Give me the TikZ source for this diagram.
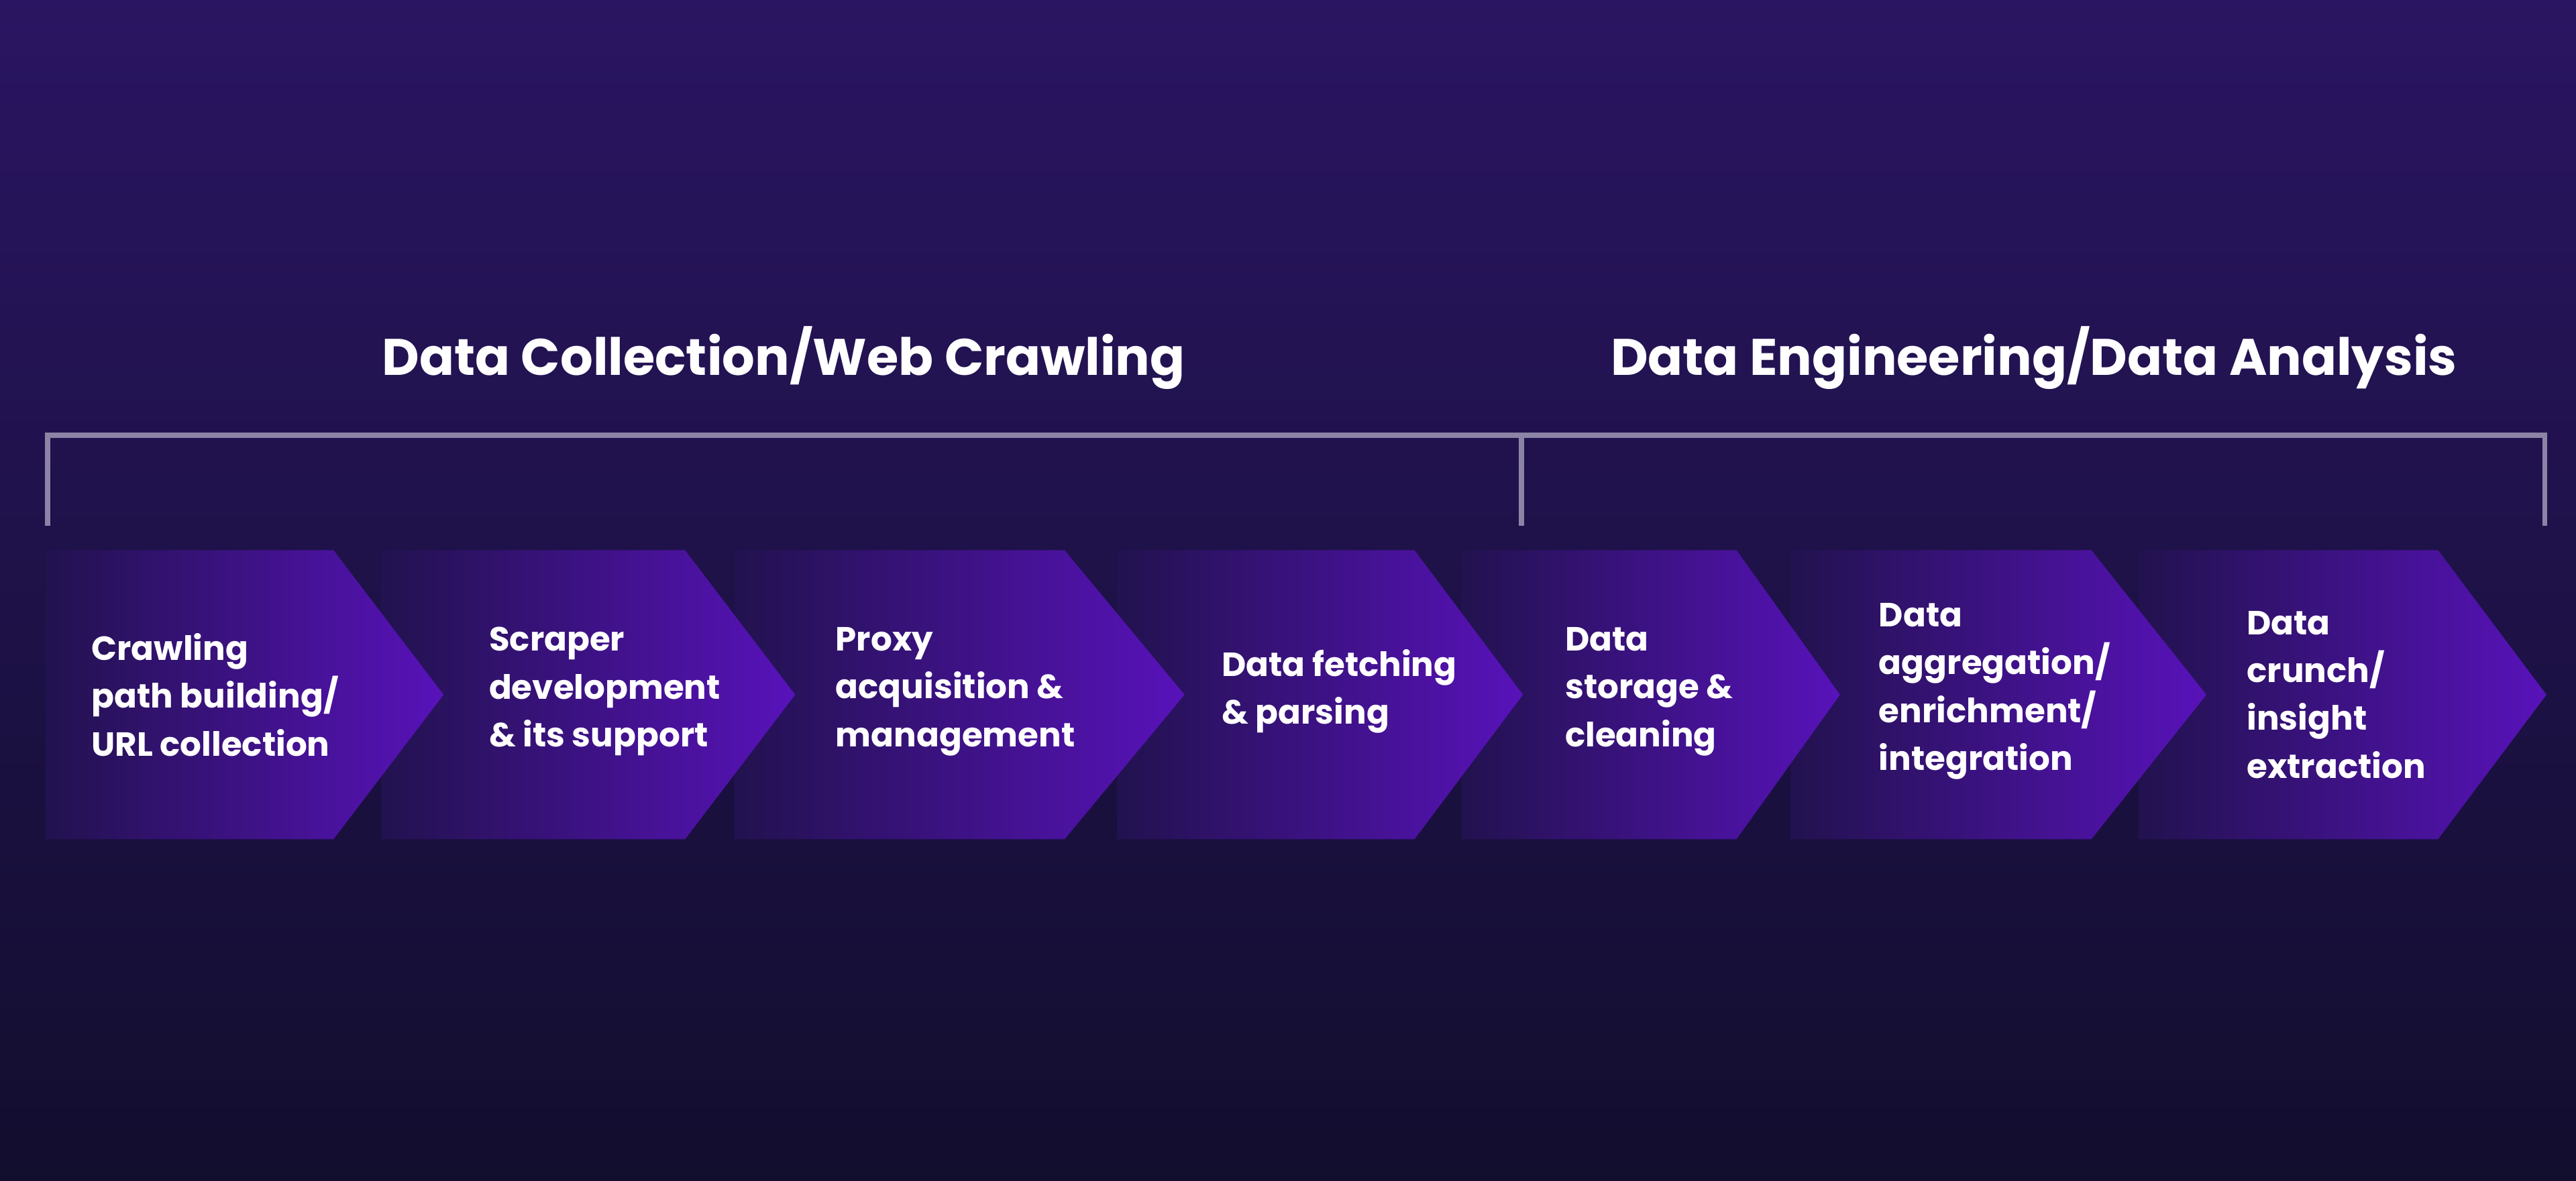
\documentclass[tikz,border=0pt]{standalone}
\usepackage{fontspec}
\setmainfont{Poppins}
\usetikzlibrary{positioning,calc}
\definecolor{bgtop}{HTML}{2A1562}
\definecolor{bgbot}{HTML}{120E2E}
\definecolor{chevdark}{HTML}{22124F}
\definecolor{chevlight}{HTML}{5812BA}
\definecolor{bracketgray}{HTML}{8C84A6}
\tikzset{
  steptext/.style={text=white,align=left,anchor=west,inner sep=0pt,font=\bfseries\fontsize{5.8}{8.3}\selectfont},
  phasetitle/.style={text=white,font=\bfseries\fontsize{8.9}{11}\selectfont}
}
\begin{document}
\begin{tikzpicture}[x=0.01cm,y=-0.01cm]
  % Background
  \shade[top color=bgtop,bottom color=bgbot] (0,0) rectangle (1568,719);
  \useasboundingbox (0,0) rectangle (1568,719);

  % Chevrons, drawn right to left so each tip lies over the next one
  \foreach \l/\s/\t in {1302/1484/1550,1090/1273/1343,890/1057/1120,680/861/927,447/648/721,232/417/484,28/203/270}{
    \shade[left color=chevdark,right color=chevlight]
      (\l,335) -- (\s,335) -- (\t,423) -- (\s,511) -- (\l,511) -- cycle;
  }

  % Phase brackets
  \draw[bracketgray,line width=0.9pt] (29,320) -- (29,265) -- (1549,265) -- (1549,320);
  \draw[bracketgray,line width=0.9pt] (926,265) -- (926,320);

  % Phase titles
  \node[phasetitle] (collect) at (477,218) {Data Collection/Web Crawling};
  \node[phasetitle] (engineer) at (1238,218) {Data Engineering/Data Analysis};

  % Step labels
  \node[steptext] (crawl) at (55,423) {Crawling\\path building/\\URL collection};
  \node[steptext] (scraper) at (297,421) {Scraper\\development\\\& its support};
  \node[steptext] (proxy) at (508,421) {Proxy\\acquisition \&\\management};
  \node[steptext] (fetch) at (743,421) {Data fetching\\\& parsing};
  \node[steptext] (store) at (952,421) {Data\\storage \&\\cleaning};
  \node[steptext] (aggregate) at (1143,421) {Data\\aggregation/\\enrichment/\\integration};
  \node[steptext] (insight) at (1367,423) {Data\\crunch/\\insight\\extraction};
\end{tikzpicture}
\end{document}
